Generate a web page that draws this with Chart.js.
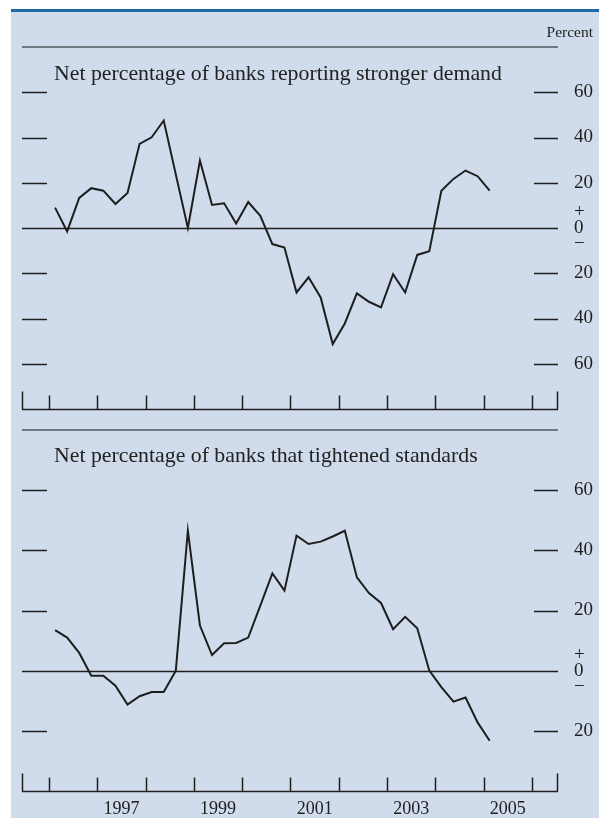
<!DOCTYPE html>
<html>
<head>
<meta charset="utf-8">
<script src="https://cdn.jsdelivr.net/npm/chart.js@4.4.1/dist/chart.umd.min.js"></script>
<style>
  html, body { margin: 0; padding: 0; background: #fff; }
  #page { position: relative; width: 599px; height: 818px; overflow: hidden; }
  #panel { position: absolute; left: 11px; top: 9px; right: 0; bottom: 0; background: #d0dcec; border-top: 3px solid #1f6aa6; }
  canvas { position: absolute; left: 0; }
  .txt { position: absolute; font-family: 'Liberation Serif', 'Times New Roman', serif; color: #222; white-space: nowrap; }
  .title { font-size: 21.8px; line-height: 22px; left: 54px; }
</style>
</head>
<body>
<div id="page">
  <div id="panel"></div>
  <canvas id="demandChart" width="599" height="440" style="top:0"></canvas>
  <canvas id="standardsChart" width="599" height="423" style="top:395px"></canvas>
  <div class="txt" style="right:6px;top:24px;font-size:15.5px;line-height:16px">Percent</div>
  <div class="txt title" style="top:62px">Net percentage of banks reporting stronger demand</div>
  <div class="txt title" style="top:444px">Net percentage of banks that tightened standards</div>
</div>
<script>
(function () {
  // quarterly survey results, 1996:Q1 - 2005:Q1
  var quarters = [
    '1996 Q1', '1996 Q2', '1996 Q3', '1996 Q4',
    '1997 Q1', '1997 Q2', '1997 Q3', '1997 Q4',
    '1998 Q1', '1998 Q2', '1998 Q3', '1998 Q4',
    '1999 Q1', '1999 Q2', '1999 Q3', '1999 Q4',
    '2000 Q1', '2000 Q2', '2000 Q3', '2000 Q4',
    '2001 Q1', '2001 Q2', '2001 Q3', '2001 Q4',
    '2002 Q1', '2002 Q2', '2002 Q3', '2002 Q4',
    '2003 Q1', '2003 Q2', '2003 Q3', '2003 Q4',
    '2004 Q1', '2004 Q2', '2004 Q3', '2004 Q4',
    '2005 Q1'
  ];
  var demandValues = [
    9, -1.5, 13.3, 17.6, 16.5, 10.6, 15.5, 37.2, 40.1, 47.5,
    23.7, 0, 29.8, 10.2, 10.9, 2, 11.5, 5.4, -7.1, -8.6,
    -28.5, -21.8, -30.7, -51.3, -42.2, -28.9, -32.6, -35.1, -20.4, -28.5,
    -11.9, -10.3, 16.5, 21.7, 25.4, 22.9, 16.5
  ];
  var standardsValues = [
    13.5, 11, 5.9, -1.7, -1.7, -5, -11.3, -8.5, -7.1, -7.1,
    0, 46.5, 15, 5.2, 9.1, 9.2, 11, 21.6, 32.3, 26.6,
    44.9, 42.1, 42.9, 44.6, 46.5, 31, 25.8, 22.5, 13.8, 17.9,
    14.1, 0, -5.5, -10.3, -8.9, -17.2, -23.3
  ];
  var demandTicks = [60, 40, 20, 0, -20, -40, -60];
  var standardsTicks = [60, 40, 20, 0, -20];
  var yearTicks = [1996, 1997, 1998, 1999, 2000, 2001, 2002, 2003, 2004, 2005, 2006];
  var yearLabels = [1997, 1999, 2001, 2003, 2005];

  var INK = '#1e1e1e';
  var FONT = "'Liberation Serif', 'Times New Roman', serif";

  function quarterPos(q) {
    var parts = q.split(' Q');
    return Number(parts[0]) + (Number(parts[1]) - 0.5) / 4;
  }

  function points(values) {
    return quarters.map(function (q, i) { return { x: quarterPos(q), y: values[i] }; });
  }

  // rule on top, short tick marks at both sides, zero line, year axis
  var frame = {
    id: 'frame',
    beforeDatasetsDraw: function (chart) {
      var ctx = chart.ctx, a = chart.chartArea;
      var xs = chart.scales.x, ys = chart.scales.y;
      ctx.save();
      ctx.lineCap = 'butt';

      ctx.strokeStyle = '#50565e';
      ctx.lineWidth = 1.5;
      ctx.beginPath();
      ctx.moveTo(a.left, a.top);
      ctx.lineTo(a.right, a.top);
      ctx.stroke();

      ctx.strokeStyle = INK;
      ctx.lineWidth = 1.3;
      ys.ticks.forEach(function (t) {
        var y = Math.round(ys.getPixelForValue(t.value)) + 0.5;
        ctx.beginPath();
        if (t.value === 0) {
          ctx.moveTo(a.left, y);
          ctx.lineTo(a.right, y);
        } else {
          ctx.moveTo(a.left, y);
          ctx.lineTo(a.left + 25, y);
          ctx.moveTo(a.right - 24, y);
          ctx.lineTo(a.right, y);
        }
        ctx.stroke();
      });

      var b = Math.round(a.bottom) + 0.5;
      ctx.lineWidth = 1.5;
      ctx.beginPath();
      ctx.moveTo(a.left, b);
      ctx.lineTo(a.right, b);
      ctx.moveTo(a.left + 0.5, b);
      ctx.lineTo(a.left + 0.5, b - 18);
      ctx.moveTo(a.right - 0.5, b);
      ctx.lineTo(a.right - 0.5, b - 18);
      yearTicks.forEach(function (yr) {
        var x = Math.round(xs.getPixelForValue(yr)) + 0.5;
        ctx.moveTo(x, b);
        ctx.lineTo(x, b - 14);
      });
      ctx.stroke();
      ctx.restore();
    }
  };

  function yAxis(min, max, tickList) {
    return {
      position: 'right',
      min: min,
      max: max,
      afterBuildTicks: function (s) { s.ticks = tickList.map(function (v) { return { value: v }; }); },
      afterFit: function (s) { s.width = 41; },
      grid: { display: false, drawTicks: false },
      border: { display: false },
      ticks: {
        padding: 16,
        color: INK,
        font: { family: FONT, size: 19, lineHeight: 0.85 },
        callback: function (v) { return v === 0 ? ['+', '0', '\u2212'] : String(Math.abs(v)); }
      }
    };
  }

  function xAxis(showLabels) {
    var axis = {
      type: 'linear',
      min: 1995.44,
      max: 2006.54,
      display: showLabels,
      afterBuildTicks: function (s) { s.ticks = yearLabels.map(function (y) { return { value: y + 0.5 }; }); },
      grid: { display: false, drawTicks: false },
      border: { display: false },
      ticks: {
        padding: 7,
        autoSkip: false,
        maxRotation: 0,
        color: INK,
        font: { family: FONT, size: 18 },
        callback: function (v) { return String(Math.floor(v)); }
      }
    };
    if (showLabels) axis.afterFit = function (s) { s.height = 27; };
    return axis;
  }

  function makeChart(id, values, yMin, yMax, tickList, showLabels, pad) {
    return new Chart(document.getElementById(id), {
      type: 'line',
      data: {
        datasets: [{
          data: points(values),
          borderColor: INK,
          borderWidth: 2,
          pointRadius: 0,
          tension: 0,
          fill: false
        }]
      },
      options: {
        responsive: false,
        animation: false,
        layout: { padding: pad },
        plugins: { legend: { display: false }, tooltip: { enabled: false } },
        scales: { x: xAxis(showLabels), y: yAxis(yMin, yMax, tickList) }
      },
      plugins: [frame]
    });
  }

  makeChart('demandChart', demandValues, -80, 80, demandTicks, false, { left: 22, top: 47, bottom: 31, right: 0 });
  makeChart('standardsChart', standardsValues, -40, 80, standardsTicks, true, { left: 22, top: 35, bottom: 0, right: 0 });
})();
</script>
</body>
</html>
